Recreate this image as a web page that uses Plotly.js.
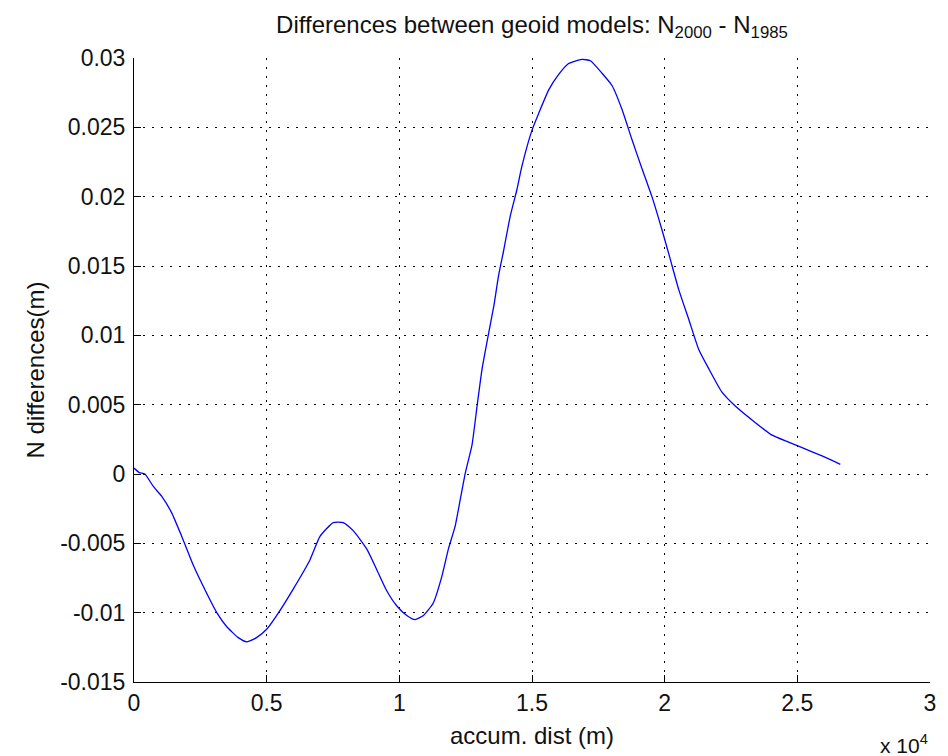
<!DOCTYPE html>
<html>
<head>
<meta charset="utf-8">
<script src="https://cdn.plot.ly/plotly-3.0.1.min.js"></script>
<style>html,body{margin:0;padding:0;background:#fff;}#chart{width:948px;height:756px;}</style>
</head>
<body>
<div id="chart"></div>
<script>
// accumulated distance (m)
const accumDist = [0, 200, 410, 730, 1040, 1420, 1800, 2240, 2610, 3120, 3490, 3930, 4250, 4620, 5000, 5380, 6000, 6630, 7010, 7510, 7890, 8270, 8770, 9150, 9520, 9900, 10280, 10590, 10910, 11280, 11600, 11850, 12100, 12290, 12490, 12740, 12930, 13120, 13370, 13560, 13740, 13930, 14180, 14430, 14620, 15000, 15250, 15630, 16000, 16380, 16880, 17200, 17640, 18020, 18390, 18770, 19150, 19520, 19900, 20210, 20530, 20900, 21280, 21660, 22160, 22660, 23420, 24050, 24670, 25180, 25930, 26620];
// N2000 - N1985 (m)
const nDiff = [0.00043, 0.0001, 0.0, -0.0009, -0.0016, -0.0028, -0.0045, -0.0066, -0.0081, -0.0100, -0.0110, -0.0118, -0.0121, -0.0118, -0.0112, -0.0102, -0.0083, -0.0062, -0.0045, -0.0035, -0.0035, -0.0041, -0.0054, -0.0069, -0.0084, -0.0095, -0.0102, -0.0105, -0.0102, -0.0093, -0.0074, -0.0054, -0.0038, -0.0019, 0.0001, 0.0021, 0.0049, 0.0076, 0.0102, 0.0121, 0.0143, 0.0161, 0.0186, 0.0205, 0.0222, 0.0248, 0.0260, 0.0277, 0.0288, 0.0296, 0.0299, 0.0298, 0.0289, 0.0280, 0.0263, 0.0241, 0.0220, 0.0200, 0.0176, 0.0155, 0.0133, 0.0112, 0.0090, 0.0076, 0.0059, 0.0049, 0.0037, 0.0028, 0.0023, 0.0019, 0.0013, 0.0007];

const xTickVals = [0, 5000, 10000, 15000, 20000, 25000, 30000];
const xTickText = ['0', '0.5', '1', '1.5', '2', '2.5', '3'];
const yTickVals = [-0.015, -0.01, -0.005, 0, 0.005, 0.01, 0.015, 0.02, 0.025, 0.03];
const yTickText = ['-0.015', '-0.01', '-0.005', '0', '0.005', '0.01', '0.015', '0.02', '0.025', '0.03'];

const FONT = 'Liberation Sans, Arial, Helvetica, sans-serif';

const trace = {
  x: accumDist,
  y: nDiff,
  type: 'scatter',
  mode: 'lines',
  line: {color: '#0000ff', width: 1.3, shape: 'spline', smoothing: 0.5},
  hoverinfo: 'x+y'
};

const axisCommon = {
  showline: true,
  linecolor: '#000',
  linewidth: 1,
  mirror: false,
  ticks: 'inside',
  ticklen: 7,
  tickwidth: 1,
  tickcolor: '#000',
  showgrid: true,
  gridcolor: '#000',
  gridwidth: 1,
  griddash: '1.5px,7.5px',
  zeroline: false,
  tickfont: {family: FONT, size: 23, color: '#111'},
  automargin: false
};

const layout = {
  width: 948,
  height: 756,
  paper_bgcolor: '#fff',
  plot_bgcolor: '#fff',
  margin: {l: 134, r: 18, t: 58, b: 74},
  showlegend: false,
  font: {family: FONT, color: '#111'},
  title: {
    text: 'Differences between geoid models: N<sub>2000</sub> - N<sub>1985</sub>',
    font: {family: FONT, size: 24, color: '#111'},
    xref: 'paper', x: 0.5, xanchor: 'center',
    yref: 'container', y: 1 - 25 / 756, yanchor: 'middle'
  },
  xaxis: Object.assign({}, axisCommon, {
    range: [0, 30000],
    tickmode: 'array',
    tickvals: xTickVals,
    ticktext: xTickText,
    title: {text: 'accum. dist (m)', font: {family: FONT, size: 24, color: '#111'}, standoff: 12}
  }),
  yaxis: Object.assign({}, axisCommon, {
    range: [-0.015, 0.03],
    tickmode: 'array',
    tickvals: yTickVals,
    ticktext: yTickText,
    ticklabelstandoff: 3,
    title: {text: 'N differences(m)', font: {family: FONT, size: 24, color: '#111'}, standoff: 8}
  }),
  annotations: [{
    text: 'x 10<sup>4</sup>',
    xref: 'paper', yref: 'paper',
    x: 1, y: -0.1, xanchor: 'right', yanchor: 'middle',
    showarrow: false,
    font: {family: FONT, size: 21, color: '#111'}
  }]
};

Plotly.newPlot('chart', [trace], layout, {displayModeBar: false});
</script>
</body>
</html>
